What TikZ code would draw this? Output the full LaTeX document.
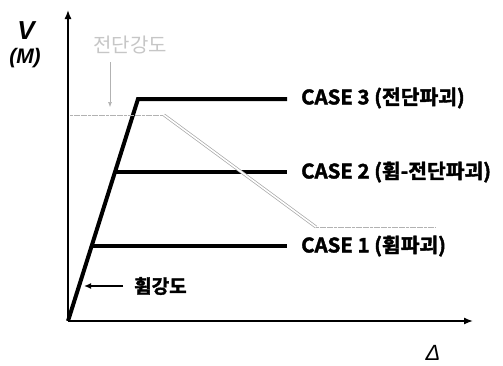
\documentclass[tikz,border=0pt]{standalone}
\usepackage{fontspec}
\setmainfont{Liberation Sans}
\newfontfamily\kr{Noto Sans CJK KR}[BoldFont={* Bold},BoldFeatures={FakeBold=2}]
\newfontfamily\heavy{Liberation Sans}[BoldFeatures={FakeBold=1.5}]
\usetikzlibrary{arrows.meta}
\begin{document}
\begin{tikzpicture}[x=1pt,y=-1pt,
  axis/.style={line width=1.4pt,-{Latex[length=9pt,width=7pt]}},
  curve/.style={line width=4pt,line join=miter},
  shear/.style={gray!70,line width=0.7pt,double=white,double distance=1.6pt},
  shearflat/.style={gray!60,line width=0.8pt,dash pattern=on 3pt off 0.6pt},
  caselbl/.style={font=\kr\bfseries\fontsize{20}{22}\selectfont,anchor=west,inner sep=0pt,xscale=1.02},
  lbl/.style={inner sep=0pt}]
\useasboundingbox (0,0) rectangle (503,365);
% axes
\coordinate (O) at (68,321);
\coordinate (Ytip) at (68,10);
\coordinate (Xtip) at (473,321);
\draw[axis] (O) -- (Ytip);
\draw[axis] (O) -- (Xtip);
% curves
\coordinate (P3) at (138,99);
\coordinate (E3) at (287,99);
\coordinate (P2) at (116,172);
\coordinate (E2) at (287,172);
\coordinate (P1) at (93,246);
\coordinate (E1) at (287,246);
\draw[curve] (O) -- (P3) -- (E3);
\draw[curve] (P2) -- (E2);
\draw[curve] (P1) -- (E1);
% shear strength
\coordinate (S0) at (70,115);
\coordinate (S1) at (164,115);
\coordinate (S2) at (316,227);
\coordinate (S3) at (435,227);
\draw[shearflat] (S0) -- (S1);
\draw[shear] (S1) -- (S2);
\draw[shearflat] (S2) -- (S3);
% labels
\node[caselbl] (c3) at (301,98) {CASE 3 (전단파괴)};
\node[caselbl] (c2) at (301,172) {CASE 2 (휨-전단파괴)};
\node[caselbl] (c1) at (301,246) {CASE 1 (휨파괴)};
\node[lbl,font=\heavy\bfseries\itshape\fontsize{26}{28}\selectfont] (V) at (26,31) {V};
\node[lbl,font=\heavy\bfseries\itshape\fontsize{21}{23}\selectfont] (M) at (25,58) {(M)};
\node[lbl,font=\itshape\fontsize{22}{24}\selectfont] (D) at (433,353) {Δ};
\node[lbl,font=\kr\bfseries\fontsize{19}{21}\selectfont,anchor=west] (flex) at (134,286) {휨강도};
\coordinate (fa) at (84,286);
\draw[line width=1.6pt,-{Latex[length=7pt,width=6pt]}] (flex.west) ++(-11,0) -- (fa);
\node[lbl,font=\kr\fontsize{20}{22}\selectfont,text=gray!45] (sl) at (130,45) {전단강도};
\coordinate (sa) at (110,107);
\draw[gray!60,line width=0.6pt,-{Latex[length=5pt,width=4pt]}] (110,62) -- (sa);
\end{tikzpicture}
\end{document}
